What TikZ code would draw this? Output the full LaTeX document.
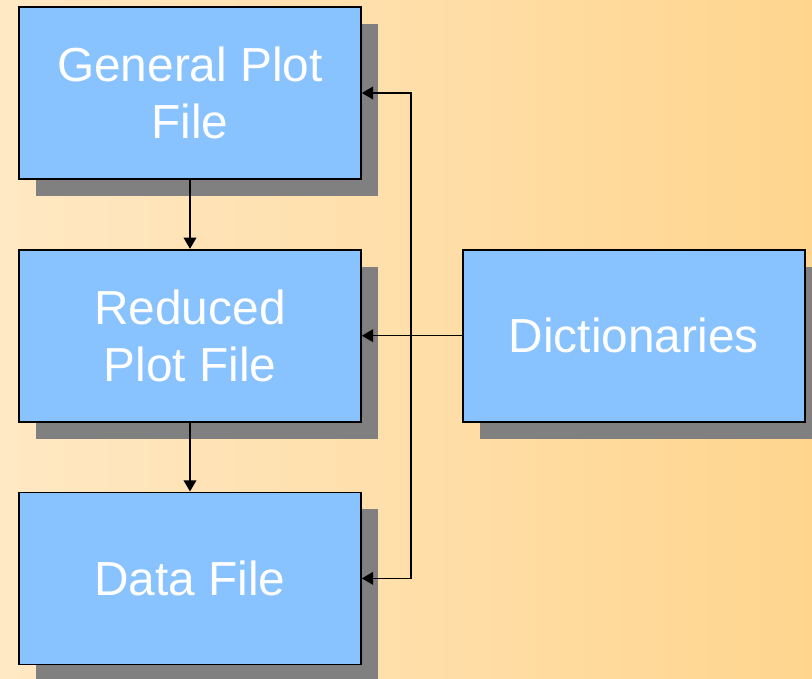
\documentclass[tikz,border=0pt]{standalone}
\usepackage{fontspec}
\setmainfont{Liberation Sans}
\usetikzlibrary{positioning}
\usetikzlibrary{arrows.meta}
\usetikzlibrary{shadows}
\usetikzlibrary{calc}
\usepackage{xcolor}
\definecolor{boxblue}{RGB}{136,194,255}
\definecolor{bgleft}{RGB}{255,232,196}
\definecolor{bgright}{RGB}{255,213,142}
\definecolor{shadowgray}{RGB}{128,128,128}

\begin{document}
\begin{tikzpicture}[
		% Style definitions - all sizes explicit
		filebox/.style={draw, line width=1.2pt, fill=boxblue, minimum width=8.55cm, minimum height=4.3cm,
			align=center, text=white, font=\fontsize{34}{40.5}\selectfont,
			drop shadow={shadow xshift=0.425cm, shadow yshift=-0.425cm, opacity=1, fill=shadowgray}},
		arrow/.style={-{Triangle[length=8pt, width=9pt]}, line width=1.1pt},
		bidir/.style={{Triangle[length=8pt, width=9pt]}-{Triangle[length=8pt, width=9pt]}, line width=1.1pt},
		node distance=1.725cm and 2.5cm,
		]
		% === Background ===
		\shade[left color=bgleft, right color=bgright] (0,0) rectangle (20.3,-16.95);
		\useasboundingbox (0,0) rectangle (20.3,-16.95);

		% === COLUMN 1: File chain ===
		\node[filebox] (general) at (4.75,-2.325) {General Plot\\File};
		\node[filebox, below=of general] (reduced) {Reduced\\Plot File};
		\node[filebox, below=of reduced] (data) {Data File};

		% === COLUMN 2: Dictionaries ===
		\node[filebox, right=of reduced] (dict) {Dictionaries};

		% === Connections: vertical chain ===
		\draw[arrow] (general) -- (reduced);
		\draw[arrow] (reduced) -- (data);

		% === Connections: dictionary feed ===
		\coordinate (bus) at ($(reduced.east)!0.49!(dict.west)$);
		\draw[arrow] (dict.west) -- (reduced.east);
		\draw[bidir] (general.east) -- (general.east -| bus) -- (data.east -| bus) -- (data.east);

	\end{tikzpicture}
\end{document}
